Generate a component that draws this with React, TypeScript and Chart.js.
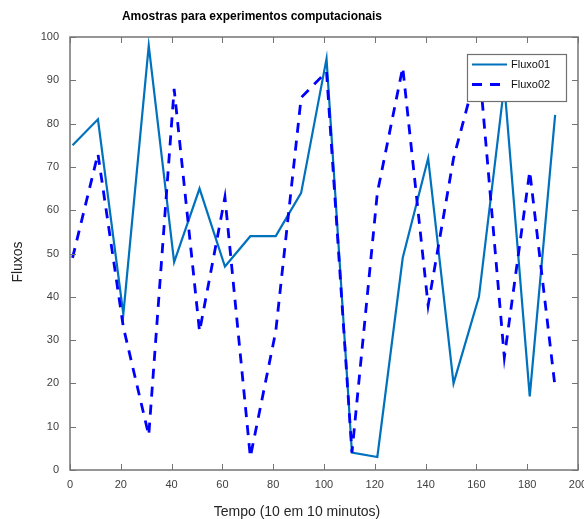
import React, { useEffect, useRef } from "react";
import { Chart, registerables } from "chart.js";

Chart.register(...registerables);

const timeValues = [1, 11, 21, 31, 41, 51, 61, 71, 81, 91, 101, 111, 121, 131, 141, 151, 161, 171, 181, 191];
const fluxo01 = [75, 81, 36, 98, 48, 65, 47, 54, 54, 64, 95, 4, 3, 49, 72, 20, 40, 89, 17, 82];
const fluxo02 = [49, 73, 33, 8, 88, 32, 63, 3, 32, 86, 92, 4, 64, 93, 38, 72, 94, 26, 69, 19];
const seriesNames = ["Fluxo01", "Fluxo02"];
const chartTitle = "Amostras para experimentos computacionais";
const xTitle = "Tempo (10 em 10 minutos)";
const yTitle = "Fluxos";

const FONT = '"Liberation Sans", Arial, Helvetica, sans-serif';
const COLOR1 = "#0072BD";
const COLOR2 = "#0000FF";
const AXIS = "#747474";

const framePlugin = {
  id: "framePlugin",
  afterDatasetsDraw(chart: any) {
    const { ctx, chartArea: a, scales } = chart;
    ctx.save();
    ctx.strokeStyle = AXIS;
    ctx.lineWidth = 1.5;
    ctx.strokeRect(a.left, a.top, a.right - a.left, a.bottom - a.top);
    ctx.lineWidth = 1;
    const tl = 6;
    scales.x.ticks.forEach((t: any) => {
      const px = Math.round(scales.x.getPixelForValue(t.value)) + 0.5;
      ctx.beginPath();
      ctx.moveTo(px, a.bottom);
      ctx.lineTo(px, a.bottom - tl);
      ctx.moveTo(px, a.top);
      ctx.lineTo(px, a.top + tl);
      ctx.stroke();
    });
    scales.y.ticks.forEach((t: any) => {
      const py = Math.round(scales.y.getPixelForValue(t.value)) + 0.5;
      ctx.beginPath();
      ctx.moveTo(a.left, py);
      ctx.lineTo(a.left + tl, py);
      ctx.moveTo(a.right, py);
      ctx.lineTo(a.right - tl, py);
      ctx.stroke();
    });

    // legend
    const lx = 467, ly = 54, lw = 99, lh = 47;
    ctx.fillStyle = "#ffffff";
    ctx.fillRect(lx, ly, lw, lh);
    ctx.strokeStyle = "#707070";
    ctx.lineWidth = 1.2;
    ctx.strokeRect(lx + 0.5, ly + 0.5, lw, lh);
    const rows = [
      { name: seriesNames[0], color: COLOR1, dash: [] as number[], width: 2, y: ly + 10.5 },
      { name: seriesNames[1], color: COLOR2, dash: [10, 8], width: 3, y: ly + 30.5 },
    ];
    rows.forEach((r) => {
      ctx.beginPath();
      ctx.strokeStyle = r.color;
      ctx.lineWidth = r.width;
      ctx.setLineDash(r.dash);
      ctx.moveTo(lx + 5, r.y);
      ctx.lineTo(lx + 40, r.y);
      ctx.stroke();
      ctx.setLineDash([]);
      ctx.fillStyle = "#111";
      ctx.font = `11px ${FONT}`;
      ctx.textAlign = "left";
      ctx.textBaseline = "middle";
      ctx.fillText(r.name, lx + 44, r.y);
    });
    ctx.restore();
  },
  afterDraw(chart: any) {
    const { ctx } = chart;
    ctx.save();
    ctx.fillStyle = "#000";
    ctx.textAlign = "center";
    ctx.textBaseline = "middle";
    ctx.font = `bold 12px ${FONT}`;
    ctx.fillText(chartTitle, 252, 17);
    ctx.fillStyle = "#262626";
    ctx.font = `14px ${FONT}`;
    ctx.fillText(xTitle, 297, 512);
    ctx.translate(18, 262);
    ctx.rotate(-Math.PI / 2);
    ctx.fillText(yTitle, 0, 0);
    ctx.restore();
  },
};

export default function App() {
  const ref = useRef<HTMLCanvasElement | null>(null);
  useEffect(() => {
    if (!ref.current) return;
    const chart = new Chart(ref.current, {
      type: "line",
      data: {
        datasets: [
          {
            label: seriesNames[0],
            data: timeValues.map((x, i) => ({ x, y: fluxo01[i] })),
            borderColor: COLOR1,
            backgroundColor: COLOR1,
            borderWidth: 2.2,
            pointRadius: 0,
            tension: 0,
            order: 1,
          },
          {
            label: seriesNames[1],
            data: timeValues.map((x, i) => ({ x, y: fluxo02[i] })),
            borderColor: COLOR2,
            backgroundColor: COLOR2,
            borderWidth: 2.8,
            borderDash: [10, 8],
            pointRadius: 0,
            tension: 0,
            order: 0,
          },
        ],
      },
      options: {
        animation: false,
        responsive: true,
        maintainAspectRatio: false,
        layout: { padding: { left: 0, right: 6, top: 37, bottom: 0 } },
        plugins: {
          legend: { display: false },
          title: { display: false },
          tooltip: { enabled: false },
        },
        scales: {
          x: {
            type: "linear",
            min: 0,
            max: 200,
            ticks: {
              stepSize: 20,
              padding: 8,
              color: "#404040",
              font: { family: FONT, size: 11 },
              maxRotation: 0,
              autoSkip: false,
            },
            grid: { display: false, drawTicks: false },
            border: { display: false },
            afterFit(s: any) {
              s.height = 49;
              s.paddingLeft = 0;
              s.paddingRight = 0;
            },
          },
          y: {
            type: "linear",
            min: 0,
            max: 100,
            ticks: {
              stepSize: 10,
              padding: 11,
              color: "#404040",
              font: { family: FONT, size: 11 },
            },
            grid: { display: false, drawTicks: false },
            border: { display: false },
            afterFit(s: any) {
              s.width = 70;
              s.paddingTop = 0;
              s.paddingBottom = 0;
            },
          },
        },
      },
      plugins: [framePlugin],
    });
    return () => chart.destroy();
  }, []);
  return (
    <div style={{ position: "absolute", left: 0, top: 0, width: 584, height: 519, background: "#fff" }}>
      <canvas ref={ref} />
    </div>
  );
}
